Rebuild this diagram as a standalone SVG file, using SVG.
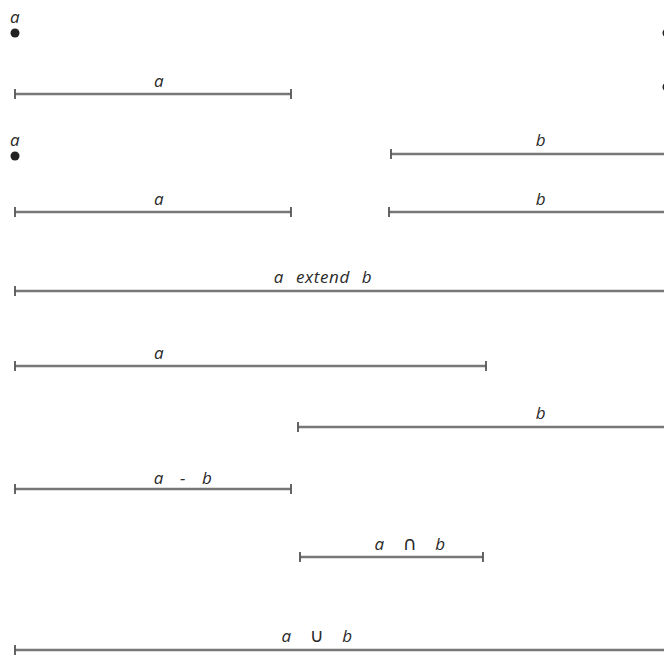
<svg xmlns="http://www.w3.org/2000/svg" width="664" height="655" viewBox="0 0 664 655">
<style>
.bg{fill:#ffffff}
.seg{stroke:#777;stroke-width:2.4;fill:none}
.tick{stroke:#555;stroke-width:1.8}
.lbl{font-family:"Open Sans","DejaVu Sans",sans-serif;font-style:italic;font-size:17px;fill:#2a2a2a;white-space:pre;letter-spacing:0.6px}
.op{font-style:normal;font-size:19px}
.dot{fill:#222}
</style>
<rect class="bg" x="0" y="0" width="664" height="655"/>
<g id="point-a-1">
<text class="lbl" x="15" y="23" text-anchor="middle">a</text>
<circle class="dot" cx="15" cy="33" r="4.5"/>
</g>
<g id="point-b-edge">
<circle class="dot" cx="667" cy="33" r="4.5"/>
<circle class="dot" cx="667" cy="87" r="4.5"/>
</g>
<g id="segment-a-1">
<text class="lbl" x="159" y="87" text-anchor="middle">a</text>
<line class="seg" x1="15" y1="94" x2="291" y2="94"/>
<line class="tick" x1="15" y1="89" x2="15" y2="99"/>
<line class="tick" x1="291" y1="89" x2="291" y2="99"/>
</g>
<g id="point-a-2">
<text class="lbl" x="15" y="146" text-anchor="middle">a</text>
<circle class="dot" cx="15" cy="156" r="4.5"/>
</g>
<g id="segment-b-1">
<text class="lbl" x="541" y="146" text-anchor="middle">b</text>
<line class="seg" x1="391" y1="154" x2="666" y2="154"/>
<line class="tick" x1="391" y1="149" x2="391" y2="159"/>
</g>
<g id="segment-a-2">
<text class="lbl" x="159" y="205" text-anchor="middle">a</text>
<line class="seg" x1="15" y1="212" x2="291" y2="212"/>
<line class="tick" x1="15" y1="207" x2="15" y2="217"/>
<line class="tick" x1="291" y1="207" x2="291" y2="217"/>
</g>
<g id="segment-b-2">
<text class="lbl" x="541" y="205" text-anchor="middle">b</text>
<line class="seg" x1="389" y1="212" x2="666" y2="212"/>
<line class="tick" x1="389" y1="207" x2="389" y2="217"/>
</g>
<g id="a-extend-b">
<text class="lbl" x="323" y="283" text-anchor="middle" style="word-spacing:1px">a  extend  b</text>
<line class="seg" x1="15" y1="291" x2="666" y2="291"/>
<line class="tick" x1="15" y1="286" x2="15" y2="296"/>
</g>
<g id="segment-a-3">
<text class="lbl" x="159" y="359" text-anchor="middle">a</text>
<line class="seg" x1="15" y1="366" x2="486" y2="366"/>
<line class="tick" x1="15" y1="361" x2="15" y2="371"/>
<line class="tick" x1="486" y1="361" x2="486" y2="371"/>
</g>
<g id="segment-b-3">
<text class="lbl" x="541" y="419" text-anchor="middle">b</text>
<line class="seg" x1="298" y1="427" x2="666" y2="427"/>
<line class="tick" x1="298" y1="422" x2="298" y2="432"/>
</g>
<g id="a-minus-b">
<text class="lbl" x="183" y="484" text-anchor="middle" style="word-spacing:3px">a  -  b</text>
<line class="seg" x1="15" y1="489" x2="291" y2="489"/>
<line class="tick" x1="15" y1="484" x2="15" y2="494"/>
<line class="tick" x1="291" y1="484" x2="291" y2="494"/>
</g>
<g id="a-intersect-b">
<text class="lbl" x="410" y="550" text-anchor="middle" style="word-spacing:4px">a  <tspan class="op">∩</tspan>  b</text>
<line class="seg" x1="300" y1="557" x2="483" y2="557"/>
<line class="tick" x1="300" y1="552" x2="300" y2="562"/>
<line class="tick" x1="483" y1="552" x2="483" y2="562"/>
</g>
<g id="a-union-b">
<text class="lbl" x="317" y="642" text-anchor="middle" style="word-spacing:4px">a  <tspan class="op">∪</tspan>  b</text>
<line class="seg" x1="15" y1="650" x2="666" y2="650"/>
<line class="tick" x1="15" y1="645" x2="15" y2="655"/>
</g>
</svg>
